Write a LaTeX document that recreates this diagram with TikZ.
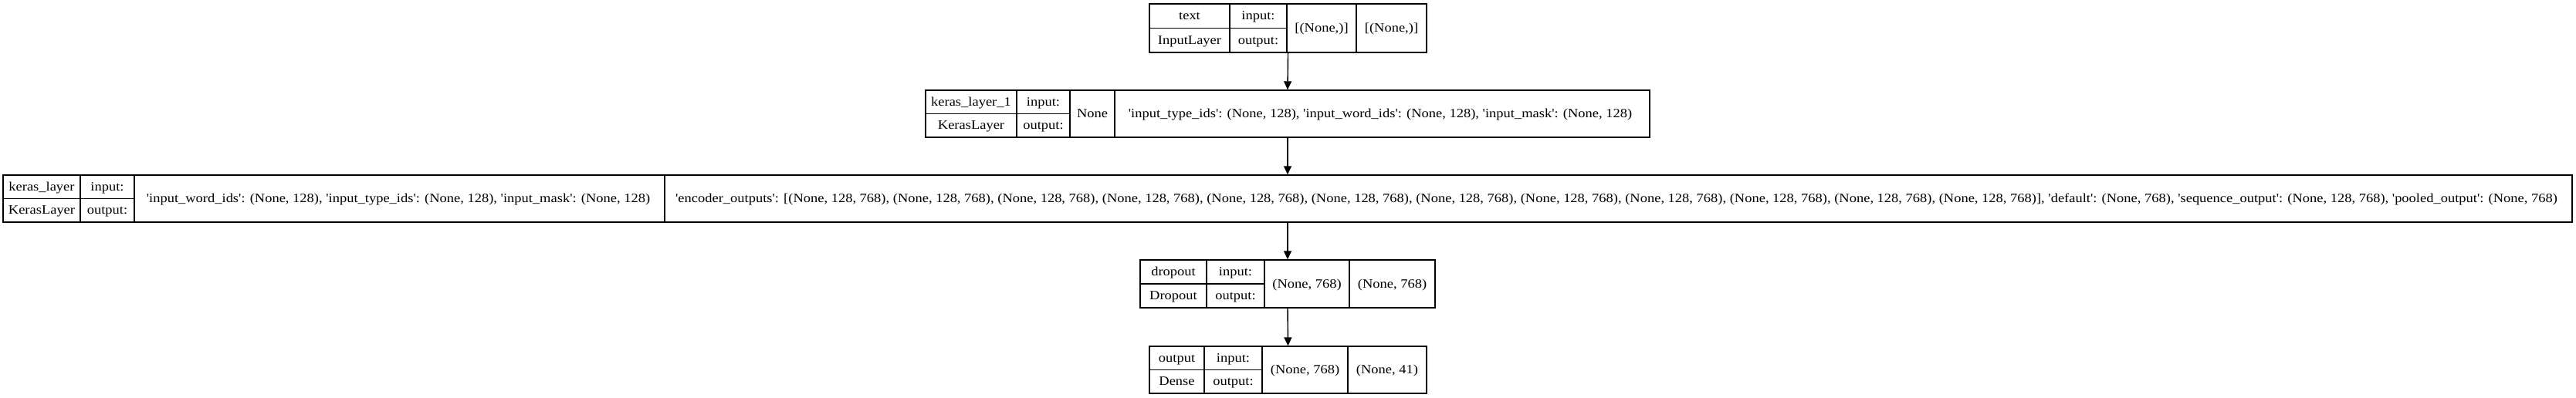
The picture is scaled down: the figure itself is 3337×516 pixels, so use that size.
\documentclass[tikz,border=0pt]{standalone}
\usepackage{fontspec}
\newfontfamily\recfont{Liberation Serif}[FakeStretch=1.12]
\usetikzlibrary{arrows.meta}
\tikzset{
  rec/.style={draw, line width=1.4pt, inner sep=0pt},
  lbl/.style={inner sep=0pt, text height=10pt, text depth=0pt, font=\recfont\fontsize{16.5}{20}\selectfont},
  arr/.style={line width=1.4pt, -{Triangle[length=11pt,width=10pt]}}
}
\begin{document}
\begin{tikzpicture}[x=1pt,y=-1pt]
  \useasboundingbox (0,0) rectangle (3337,516);
  % text : InputLayer
  \node[rec, minimum width=359pt, minimum height=63pt] (inp) at (1668.5,36.5) {};
  \draw[rec] (1593,5) -- (1593,68) (1667,5) -- (1667,68) (1757,5) -- (1757,68) (1489,36.5) -- (1667,36.5);
  \node[lbl] (inpname) at (1541,20.75) {text};
  \node[lbl] (inpclass) at (1541,52.25) {InputLayer};
  \node[lbl] (inpin) at (1630,20.75) {input:};
  \node[lbl] (inpout) at (1630,52.25) {output:};
  \node[lbl] (inpinval) at (1712,36.5) {[(None,)]};
  \node[lbl] (inpoutval) at (1802.5,36.5) {[(None,)]};
  % keras_layer_1 : KerasLayer
  \node[rec, minimum width=938pt, minimum height=61pt] (kl1) at (1668,147.5) {};
  \draw[rec] (1317,117) -- (1317,178) (1386,117) -- (1386,178) (1444,117) -- (1444,178) (1199,147.5) -- (1386,147.5);
  \node[lbl] (kl1name) at (1258,132.25) {keras\_layer\_1};
  \node[lbl] (kl1class) at (1258,162.75) {KerasLayer};
  \node[lbl] (kl1in) at (1351.5,132.25) {input:};
  \node[lbl] (kl1out) at (1351.5,162.75) {output:};
  \node[lbl] (kl1inval) at (1415,147.5) {None};
  \node[lbl] (kl1outval) at (1788,147.5) {'input\_type\_ids': (None, 128), 'input\_word\_ids': (None, 128), 'input\_mask': (None, 128)};
  % keras_layer : KerasLayer
  \node[rec, minimum width=3328pt, minimum height=61pt] (kl) at (1668,257.5) {};
  \draw[rec] (104,227) -- (104,288) (174,227) -- (174,288) (861,227) -- (861,288) (4,257.5) -- (174,257.5);
  \node[lbl] (klname) at (54,242.25) {keras\_layer};
  \node[lbl] (klclass) at (54,272.75) {KerasLayer};
  \node[lbl] (klin) at (139,242.25) {input:};
  \node[lbl] (klout) at (139,272.75) {output:};
  \node[lbl] (klinval) at (516,257.5) {'input\_word\_ids': (None, 128), 'input\_type\_ids': (None, 128), 'input\_mask': (None, 128)};
  \node[lbl] (kloutval) at (2094,257.5) {'encoder\_outputs': [(None, 128, 768), (None, 128, 768), (None, 128, 768), (None, 128, 768), (None, 128, 768), (None, 128, 768), (None, 128, 768), (None, 128, 768), (None, 128, 768), (None, 128, 768), (None, 128, 768), (None, 128, 768)], 'default': (None, 768), 'sequence\_output': (None, 128, 768), 'pooled\_output': (None, 768)};
  % dropout : Dropout
  \node[rec, minimum width=382pt, minimum height=62pt] (drop) at (1668,368) {};
  \draw[rec] (1563,337) -- (1563,399) (1638,337) -- (1638,399) (1748,337) -- (1748,399) (1477,368) -- (1638,368);
  \node[lbl] (dropname) at (1520,352.5) {dropout};
  \node[lbl] (dropclass) at (1520,383.5) {Dropout};
  \node[lbl] (dropin) at (1600.5,352.5) {input:};
  \node[lbl] (dropout) at (1600.5,383.5) {output:};
  \node[lbl] (dropinval) at (1693,368) {(None, 768)};
  \node[lbl] (dropoutval) at (1803.5,368) {(None, 768)};
  % output : Dense
  \node[rec, minimum width=359pt, minimum height=61pt] (dense) at (1668.5,479.5) {};
  \draw[rec] (1560,449) -- (1560,510) (1635,449) -- (1635,510) (1746,449) -- (1746,510) (1489,479.5) -- (1635,479.5);
  \node[lbl] (densename) at (1524.5,464.25) {output};
  \node[lbl] (denseclass) at (1524.5,494.75) {Dense};
  \node[lbl] (densein) at (1597.5,464.25) {input:};
  \node[lbl] (denseout) at (1597.5,494.75) {output:};
  \node[lbl] (denseinval) at (1690.5,479.5) {(None, 768)};
  \node[lbl] (denseoutval) at (1797,479.5) {(None, 41)};
  % arrows
  \draw[arr] (inp.south) -- (kl1.north);
  \draw[arr] (kl1.south) -- (kl.north);
  \draw[arr] (kl.south) -- (drop.north);
  \draw[arr] (drop.south) -- (dense.north);
\end{tikzpicture}
\end{document}
